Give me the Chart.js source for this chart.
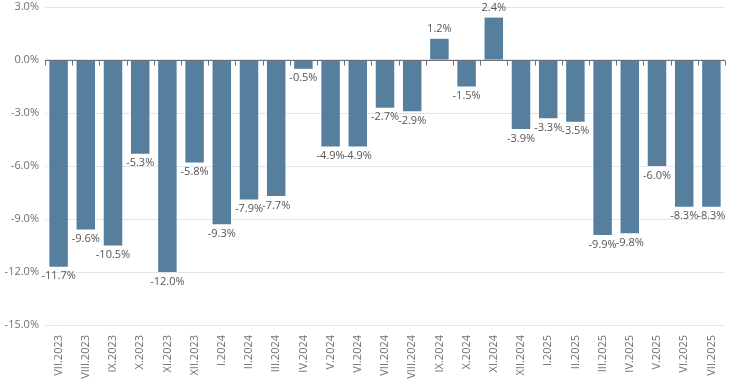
<!DOCTYPE html>
<html>
<head>
<meta charset="utf-8">
<script src="https://cdn.jsdelivr.net/npm/chart.js@4"></script>
<style>
  html, body { margin: 0; padding: 0; background: #fff; }
  #wrap { width: 740px; height: 390px; }
</style>
</head>
<body>
<div id="wrap"><canvas id="chart" width="740" height="390"></canvas></div>
<script>
// months and values (%)
var months = ['VII.2023', 'VIII.2023', 'IX.2023', 'X.2023', 'XI.2023', 'XII.2023',
    'I.2024', 'II.2024', 'III.2024', 'IV.2024', 'V.2024', 'VI.2024', 'VII.2024', 'VIII.2024',
    'IX.2024', 'X.2024', 'XI.2024', 'XII.2024', 'I.2025', 'II.2025', 'III.2025', 'IV.2025',
    'V.2025', 'VI.2025', 'VII.2025'];
var changes = [-11.7, -9.6, -10.5, -5.3, -12.0, -5.8, -9.3, -7.9, -7.7, -0.5, -4.9, -4.9,
    -2.7, -2.9, 1.2, -1.5, 2.4, -3.9, -3.3, -3.5, -9.9, -9.8, -6.0, -8.3, -8.3];
var yMin = -15, yMax = 3, yStep = 3;

// zero axis line with category ticks + value labels
var barExtras = {
    id: 'barExtras',
    afterDatasetsDraw: function(chart) {
        var ctx = chart.ctx, x = chart.scales.x, y = chart.scales.y;
        var y0 = Math.round(y.getPixelForValue(0)) + 0.5;
        ctx.save();
        ctx.strokeStyle = '#6E7079';
        ctx.lineWidth = 1;
        ctx.beginPath();
        ctx.moveTo(chart.chartArea.left, y0);
        ctx.lineTo(chart.chartArea.right, y0);
        var step = (chart.chartArea.right - chart.chartArea.left) / months.length;
        for (var i = 0; i <= months.length; i++) {
            var px = Math.round(chart.chartArea.left + i * step) + 0.5;
            ctx.moveTo(px, y0);
            ctx.lineTo(px, y0 + 5);
        }
        ctx.stroke();

        ctx.fillStyle = '#555';
        ctx.font = '11px "Open Sans", sans-serif';
        ctx.textAlign = 'center';
        var meta = chart.getDatasetMeta(0);
        meta.data.forEach(function(bar, i) {
            var v = changes[i];
            var txt = v.toFixed(1) + '%';
            if (v >= 0) {
                ctx.textBaseline = 'bottom';
                ctx.fillText(txt, bar.x, bar.y - 4);
            } else {
                ctx.textBaseline = 'top';
                ctx.fillText(txt, bar.x, bar.y + 4);
            }
        });
        ctx.restore();
    }
};

var ctx = document.getElementById('chart');
new Chart(ctx, {
    type: 'bar',
    data: {
        labels: months,
        datasets: [{
            data: changes,
            backgroundColor: '#567f9e',
            borderWidth: 0,
            barPercentage: 0.68,
            categoryPercentage: 1.0
        }]
    },
    options: {
        responsive: false,
        animation: false,
        layout: { padding: { top: 7, right: 15, left: 0, bottom: 0 } },
        plugins: {
            legend: { display: false },
            tooltip: { enabled: false }
        },
        scales: {
            x: {
                grid: { display: false },
                border: { display: false },
                ticks: {
                    color: '#6E7079',
                    font: { family: '"Open Sans", sans-serif', size: 11 },
                    minRotation: 90,
                    maxRotation: 90,
                    autoSkip: false,
                    padding: 2
                },
                afterFit: function(s) { s.height = 65; }
            },
            y: {
                min: yMin,
                max: yMax,
                ticks: {
                    stepSize: yStep,
                    color: '#6E7079',
                    font: { family: '"Open Sans", sans-serif', size: 11 },
                    padding: 6,
                    callback: function(v) { return v.toFixed(1) + '%'; }
                },
                grid: { color: '#E0E6F1', drawTicks: false },
                border: { display: false },
                afterFit: function(s) {
                    s.width = 45;
                    s.paddingTop = 0;
                    s.paddingBottom = 0;
                }
            }
        }
    },
    plugins: [barExtras]
});
</script>
</body>
</html>
